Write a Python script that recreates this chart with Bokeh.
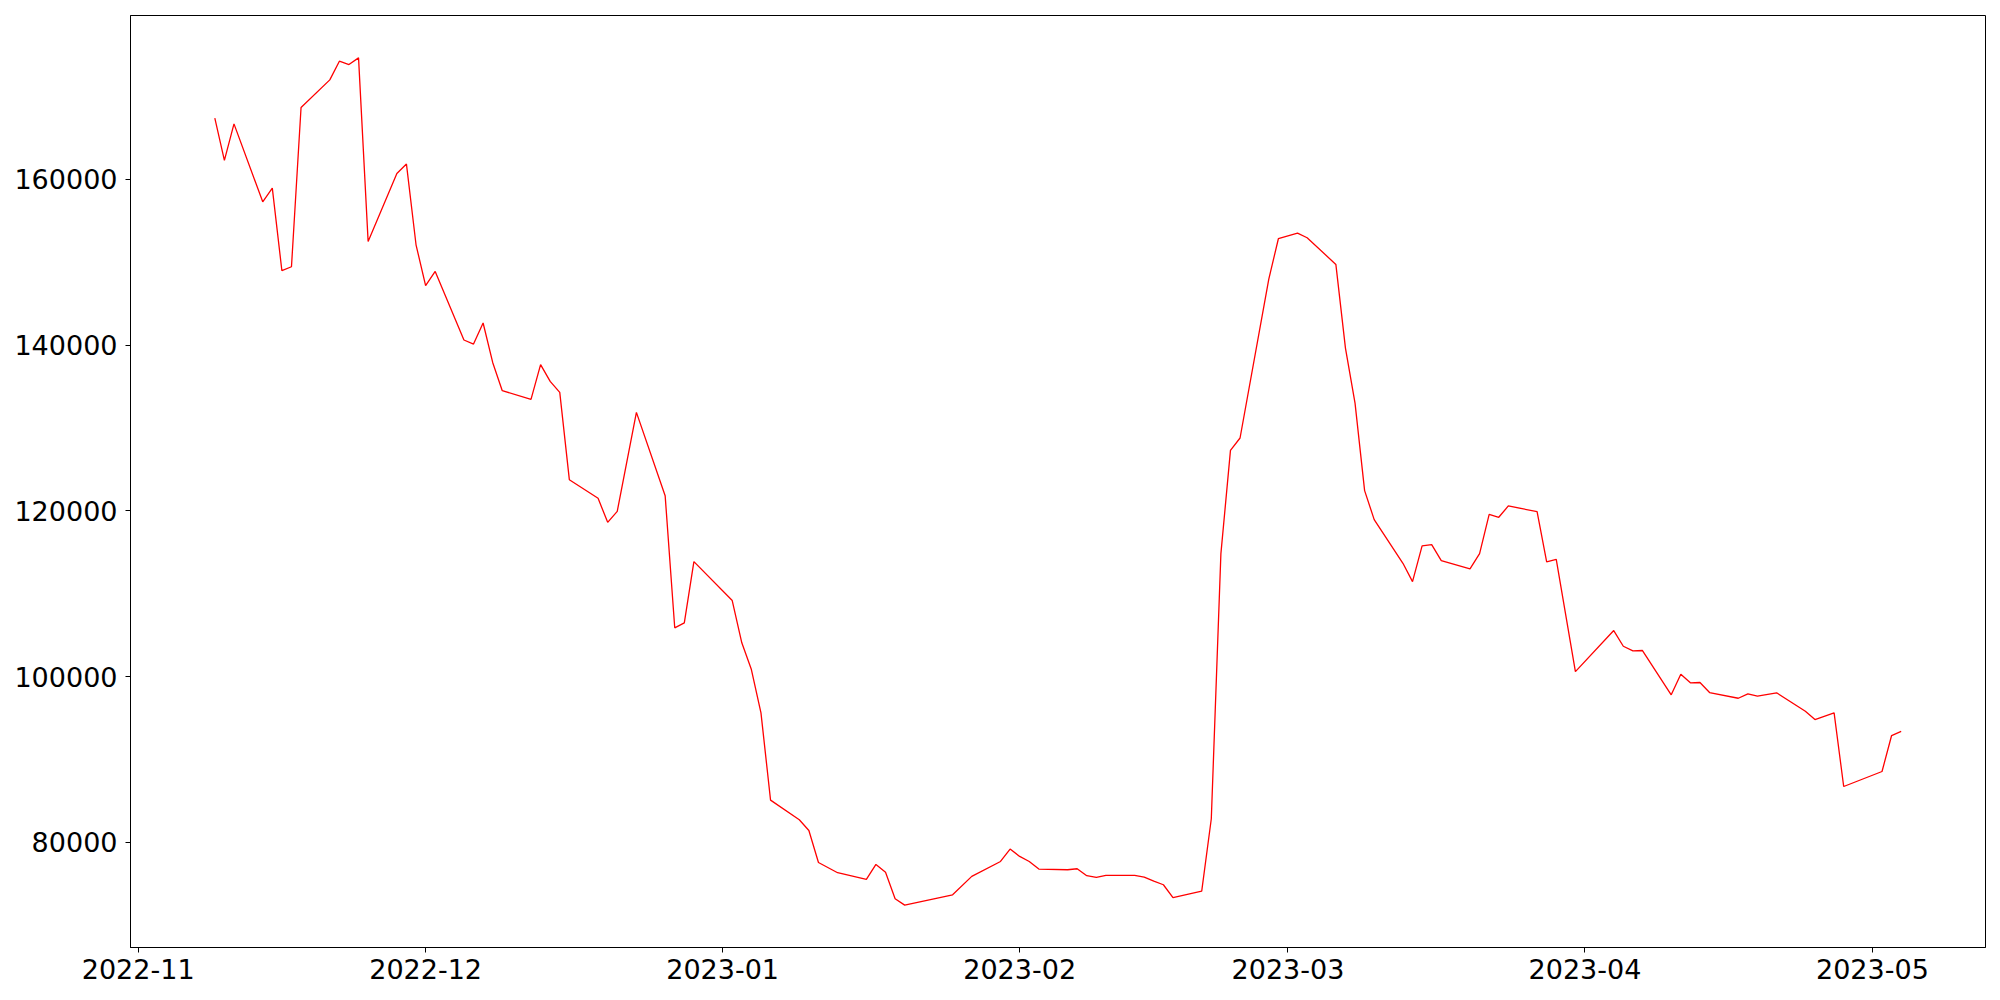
import datetime as dt
import numpy as np
import pandas as pd
from bokeh.plotting import figure
from bokeh.models import Range1d, FixedTicker, DatetimeTickFormatter, NumeralTickFormatter, ColumnDataSource
from bokeh.embed import file_html
from bokeh.resources import INLINE

dates = [
    "2022-11-09", "2022-11-10", "2022-11-11", "2022-11-14", "2022-11-15", "2022-11-16", "2022-11-17", "2022-11-18",
    "2022-11-21", "2022-11-22", "2022-11-23", "2022-11-24", "2022-11-25", "2022-11-28", "2022-11-29", "2022-11-30",
    "2022-12-01", "2022-12-02", "2022-12-05", "2022-12-06", "2022-12-07", "2022-12-08", "2022-12-09", "2022-12-12",
    "2022-12-13", "2022-12-14", "2022-12-15", "2022-12-16", "2022-12-19", "2022-12-20", "2022-12-21", "2022-12-23",
    "2022-12-26", "2022-12-27", "2022-12-28", "2022-12-29", "2023-01-02", "2023-01-03", "2023-01-04", "2023-01-05",
    "2023-01-06", "2023-01-09", "2023-01-10", "2023-01-11", "2023-01-13", "2023-01-16", "2023-01-17", "2023-01-18",
    "2023-01-19", "2023-01-20", "2023-01-25", "2023-01-27", "2023-01-30", "2023-01-31", "2023-02-01", "2023-02-02",
    "2023-02-03", "2023-02-06", "2023-02-07", "2023-02-08", "2023-02-09", "2023-02-10", "2023-02-13", "2023-02-14",
    "2023-02-15", "2023-02-16", "2023-02-17", "2023-02-20", "2023-02-21", "2023-02-22", "2023-02-23", "2023-02-24",
    "2023-02-27", "2023-02-28", "2023-03-02", "2023-03-03", "2023-03-06", "2023-03-07", "2023-03-08", "2023-03-09",
    "2023-03-10", "2023-03-13", "2023-03-14", "2023-03-15", "2023-03-16", "2023-03-17", "2023-03-20", "2023-03-21",
    "2023-03-22", "2023-03-23", "2023-03-24", "2023-03-27", "2023-03-28", "2023-03-29", "2023-03-31", "2023-04-04",
    "2023-04-05", "2023-04-06", "2023-04-07", "2023-04-10", "2023-04-11", "2023-04-12", "2023-04-13", "2023-04-14",
    "2023-04-17", "2023-04-18", "2023-04-19", "2023-04-21", "2023-04-24", "2023-04-25", "2023-04-27", "2023-04-28",
    "2023-05-02", "2023-05-03", "2023-05-04",
]

values = [
    167400, 162300, 166700, 157300, 158950, 148980, 149460, 168670,
    172010, 174270, 173860, 174670, 152510, 160710, 161850, 152110,
    147170, 148890, 140620, 140130, 142670, 137910, 134500, 133450,
    137640, 135620, 134290, 123760, 121510, 118610, 119940, 131880,
    121830, 105880, 106480, 113870, 109170, 104070, 100840, 95620,
    85080, 82710, 81420, 77560, 76320, 75510, 77320, 76390,
    73180, 72410, 73660, 75880, 77680, 79180, 78290, 77680,
    76760, 76680, 76800, 75960, 75750, 75990, 75990, 75790,
    75310, 74870, 73310, 74100, 82840, 114800, 127300, 128790,
    147970, 152840, 153520, 152960, 149740, 139640, 133000, 122440,
    118940, 113670, 111460, 115770, 115930, 113990, 112990, 114840,
    119580, 119220, 120590, 119900, 113840, 114150, 100600, 105550,
    103660, 103100, 103140, 97790, 100280, 99240, 99280, 98070,
    97380, 97910, 97630, 98040, 95820, 94810, 95620, 86730,
    88540, 92880, 93370,
]

x_tick_labels = ["2022-11", "2022-12", "2023-01", "2023-02", "2023-03", "2023-04", "2023-05"]
y_tick_values = [80000, 100000, 120000, 140000, 160000]

x = pd.to_datetime(dates)
y = np.array(values, dtype=float)
src = ColumnDataSource(dict(x=x, y=y))

# matplotlib-like 5% margins
def ms(t):
    return pd.Timestamp(t).value / 1e6

x0, x1 = ms(x.min()), ms(x.max())
xpad = (x1 - x0) * 0.05
y0, y1 = y.min(), y.max()
ypad = (y1 - y0) * 0.05

p = figure(
    width=1992, height=992,
    x_axis_type="datetime",
    x_range=Range1d(x0 - xpad, x1 + xpad),
    y_range=Range1d(y0 - ypad, y1 + ypad),
    output_backend="svg", toolbar_location=None,
    min_border_left=130, min_border_right=7, min_border_top=15, min_border_bottom=45,
)

p.line("x", "y", source=src, line_color="red", line_width=1.3)

p.grid.visible = False
p.outline_line_color = "black"
p.outline_line_width = 1
p.background_fill_color = "white"
p.border_fill_color = "white"

p.xaxis.ticker = FixedTicker(ticks=[ms(pd.Timestamp(t + "-01")) for t in x_tick_labels])
fmt = "%Y-%m"
p.xaxis.formatter = DatetimeTickFormatter(
    milliseconds=fmt, seconds=fmt, minsec=fmt, minutes=fmt, hourmin=fmt, hours=fmt,
    days=fmt, months=fmt, years=fmt,
)
p.yaxis.ticker = FixedTicker(ticks=y_tick_values)
p.yaxis.formatter = NumeralTickFormatter(format="0")

for ax in (p.xaxis, p.yaxis):
    ax.major_label_text_font = "DejaVu Sans"
    ax.major_label_text_font_size = "27px"
    ax.major_label_text_color = "black"
    ax.major_tick_out = 5
    ax.major_tick_in = 0
    ax.minor_tick_out = 0
    ax.minor_tick_in = 0
    ax.major_tick_line_color = "black"
    ax.major_tick_line_width = 1
    ax.axis_line_color = "black"
    ax.axis_line_width = 1
p.xaxis.major_label_standoff = 6
p.yaxis.major_label_standoff = 8

open("out.html", "w").write(file_html(p, INLINE))
